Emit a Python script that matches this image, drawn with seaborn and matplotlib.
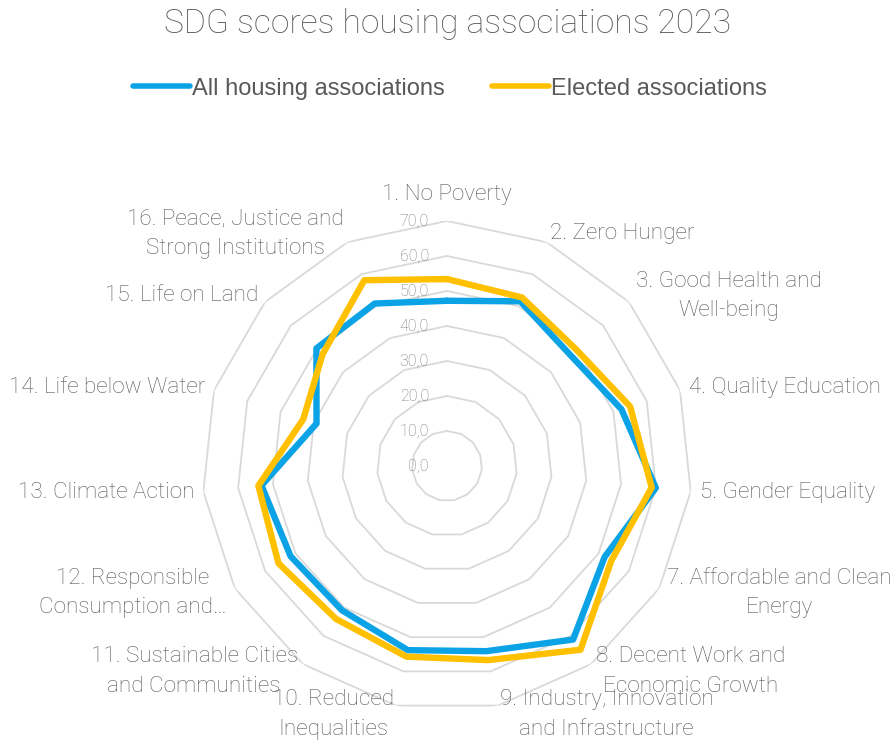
import numpy as np
import pandas as pd
import matplotlib
matplotlib.use("Agg")
import matplotlib.pyplot as plt
import seaborn as sns

# SDG categories (goal 6 is not in the source chart)
categories = [
    "1. No Poverty",
    "2. Zero Hunger",
    "3. Good Health and\nWell-being",
    "4. Quality Education",
    "5. Gender Equality",
    "7. Affordable and Clean\nEnergy",
    "8. Decent Work and\nEconomic Growth",
    "9. Industry, Innovation\nand Infrastructure",
    "10. Reduced\nInequalities",
    "11. Sustainable Cities\nand Communities",
    "12. Responsible\nConsumption and\u2026",
    "13. Climate Action",
    "14. Life below Water",
    "15. Life on Land",
    "16. Peace, Justice and\nStrong Institutions",
]
allScores = [47.2, 51.5, 47.4, 52.4, 60.0, 52.0, 61.3, 54.1, 53.8, 51.0, 51.6, 53.3, 39.2, 50.2, 50.8]
electedScores = [53.4, 52.7, 49.7, 55.0, 58.8, 54.2, 64.9, 56.7, 55.7, 54.0, 55.6, 54.2, 43.2, 47.8, 58.1]
seriesNames = ["All housing associations", "Elected associations"]
ringLevels = [0, 10, 20, 30, 40, 50, 60, 70]

BLUE = "#0ba3e6"
YELLOW = "#ffc000"
GRID = "#d9d9d9"
TEXT = "#595959"
FONT = ['Roboto', 'DejaVu Sans']

sns.set_theme(style="white")
plt.rcParams['font.family'] = FONT

n = len(categories)
theta = np.linspace(0, 2 * np.pi, n, endpoint=False)
thetaClosed = np.append(theta, theta[0] + 2 * np.pi)

rows = []
for name, vals in zip(seriesNames, [allScores, electedScores]):
    closed = list(vals) + [vals[0]]
    for t, v in zip(thetaClosed, closed):
        rows.append({"theta": t, "score": v, "series": name})
df = pd.DataFrame(rows)

fig = plt.figure(figsize=(8.95, 7.44), dpi=100)
ax = fig.add_axes([0.2257, 0.0444, 0.5475, 0.6586], projection='polar')
ax.set_theta_zero_location('N')
ax.set_theta_direction(-1)
ax.grid(False)
ax.spines['polar'].set_visible(False)
ax.set_xticks([])
ax.set_yticks([])
ax.set_ylim(0, 70)

# polygon rings
for level in ringLevels[1:]:
    ax.plot(thetaClosed, np.full(len(thetaClosed), level), color=GRID, lw=1.3, zorder=1)

sns.lineplot(data=df, x="theta", y="score", hue="series", sort=False, estimator=None,
             palette=[BLUE, YELLOW], linewidth=4.6, ax=ax, zorder=3)
for line in ax.get_lines()[-2:]:
    line.set_solid_joinstyle('miter')

# ring value labels
for level in ringLevels:
    ax.annotate(f"{level},0", xy=(0, level), xytext=(-13, 0), textcoords='offset points',
                ha='right', va='center', fontsize=11.5, color="#7a7a7a", fontweight='light')

# category labels
for t, label in zip(theta, categories):
    deg = np.degrees(t)
    if deg == 0:
        ax.text(t, 77.7, label, ha='center', va='center', fontsize=16.2, color=TEXT,
                fontweight='light')
    else:
        ha = 'left' if deg < 180 else 'right'
        ax.text(t, 72.6, label, ha=ha, va='center', multialignment='center',
                fontsize=16.2, color=TEXT, fontweight='light', linespacing=1.55)

handles, labels = ax.get_legend_handles_labels()
ax.get_legend().remove()
leg = fig.legend(handles, labels, loc='center', bbox_to_anchor=(0.503, 0.881), ncol=2,
                 frameon=False, handlelength=2.4, handletextpad=0.1, columnspacing=2.0,
                 prop={'family': 'Liberation Sans', 'size': 17})
for txt in leg.get_texts():
    txt.set_color(TEXT)
for h in leg.legend_handles:
    h.set_linewidth(4.0)
    h.set_solid_capstyle('round')

fig.suptitle("SDG scores housing associations 2023", y=0.968, va='center',
             fontsize=24.2, color=TEXT, fontweight='light')

fig.savefig("out.png", dpi=100)
